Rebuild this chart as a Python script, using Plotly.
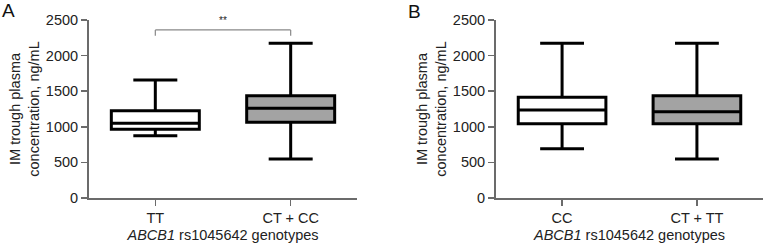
import plotly.graph_objects as go

# Panel A data
cats_a = ["TT", "CT + CC"]
a_lower = [875, 548]
a_q1 = [964, 1063]
a_median = [1049, 1259]
a_q3 = [1227, 1437]
a_upper = [1657, 2172]

# Panel B data
cats_b = ["CC", "CT + TT"]
b_lower = [693, 548]
b_q1 = [1044, 1044]
b_median = [1236, 1212]
b_q3 = [1414, 1437]
b_upper = [2172, 2172]

fills = ["white", "#a3a3a3"]
y_ticks = [0, 500, 1000, 1500, 2000, 2500]
sig_label = "**"
sig_y = 2360

FONT = "Liberation Sans, Arial, Helvetica, sans-serif"
AXC = "#6b6b6b"

fig = go.Figure()

def add_boxes(cats, lo, q1, med, q3, up, xa, ya):
    for i, c in enumerate(cats):
        fig.add_trace(go.Box(
            x=[c], q1=[q1[i]], median=[med[i]], q3=[q3[i]],
            lowerfence=[lo[i]], upperfence=[up[i]],
            fillcolor=fills[i], line=dict(color="black", width=3),
            width=0.65, whiskerwidth=0.5, boxpoints=False,
            xaxis=xa, yaxis=ya, showlegend=False, hoverinfo="skip"))

add_boxes(cats_a, a_lower, a_q1, a_median, a_q3, a_upper, "x", "y")
add_boxes(cats_b, b_lower, b_q1, b_median, b_q3, b_upper, "x2", "y2")

ydom = [50 / 248, 228 / 248]
xcommon = dict(showline=True, linecolor=AXC, linewidth=2, ticks="outside",
               ticklen=6, tickwidth=1.5, tickcolor=AXC, range=[-0.49, 1.49],
               tickfont=dict(size=14.5, color="#222", family=FONT),
               showgrid=False, zeroline=False, fixedrange=True, automargin=False)
ycommon = dict(showline=True, linecolor=AXC, linewidth=2, ticks="outside",
               ticklen=6, tickwidth=1.5, tickcolor=AXC, range=[0, 2500],
               tickvals=y_ticks, tickfont=dict(size=14.5, color="#222", family=FONT),
               showgrid=False, zeroline=False, domain=ydom, automargin=False,
               fixedrange=True)

xtitle = dict(text="<i>ABCB1</i> rs1045642 genotypes",
              font=dict(size=14.5, color="#222", family=FONT), standoff=4)
ytitle = dict(text="IM trough plasma<br>concentration, ng/mL",
              font=dict(size=14.5, color="#222", family=FONT), standoff=3)

fig.update_layout(
    width=763, height=248,
    margin=dict(l=0, r=0, t=0, b=0, autoexpand=False),
    paper_bgcolor="white", plot_bgcolor="white",
    font=dict(family=FONT, size=14, color="#222"),
    xaxis=dict(domain=[89 / 763, 357 / 763], anchor="y", title=xtitle, **xcommon),
    yaxis=dict(anchor="x", title=ytitle, **ycommon),
    xaxis2=dict(domain=[496 / 763, 1.0], anchor="y2", title=xtitle, **xcommon),
    yaxis2=dict(anchor="x2", title=ytitle, **ycommon),
    boxgap=0, boxgroupgap=0,
)

# significance bracket in panel A
br = dict(type="line", xref="x", yref="y", line=dict(color="#888", width=1.2))
fig.add_shape(x0=cats_a[0], x1=cats_a[1], y0=sig_y, y1=sig_y, **br)
fig.add_shape(x0=cats_a[0], x1=cats_a[0], y0=sig_y, y1=sig_y - 80, **br)
fig.add_shape(x0=cats_a[1], x1=cats_a[1], y0=sig_y, y1=sig_y - 80, **br)
fig.add_annotation(x=0.5, y=sig_y, xref="x", yref="y", text=sig_label,
                   showarrow=False, yanchor="bottom", yshift=2,
                   font=dict(size=10, color="#222", family=FONT))

# panel letters
fig.add_annotation(x=0, y=1, xref="paper", yref="paper", text="A",
                   showarrow=False, xanchor="left", yanchor="top", yshift=2,
                   font=dict(size=19, color="#111", family=FONT))
fig.add_annotation(x=406 / 763, y=1, xref="paper", yref="paper", text="B",
                   showarrow=False, xanchor="left", yanchor="top", yshift=1,
                   font=dict(size=19, color="#111", family=FONT))

fig.write_html("out.html",
               config={"displayModeBar": False, "staticPlot": True},
               post_script="document.body.style.margin='0';document.body.style.overflow='hidden';")
